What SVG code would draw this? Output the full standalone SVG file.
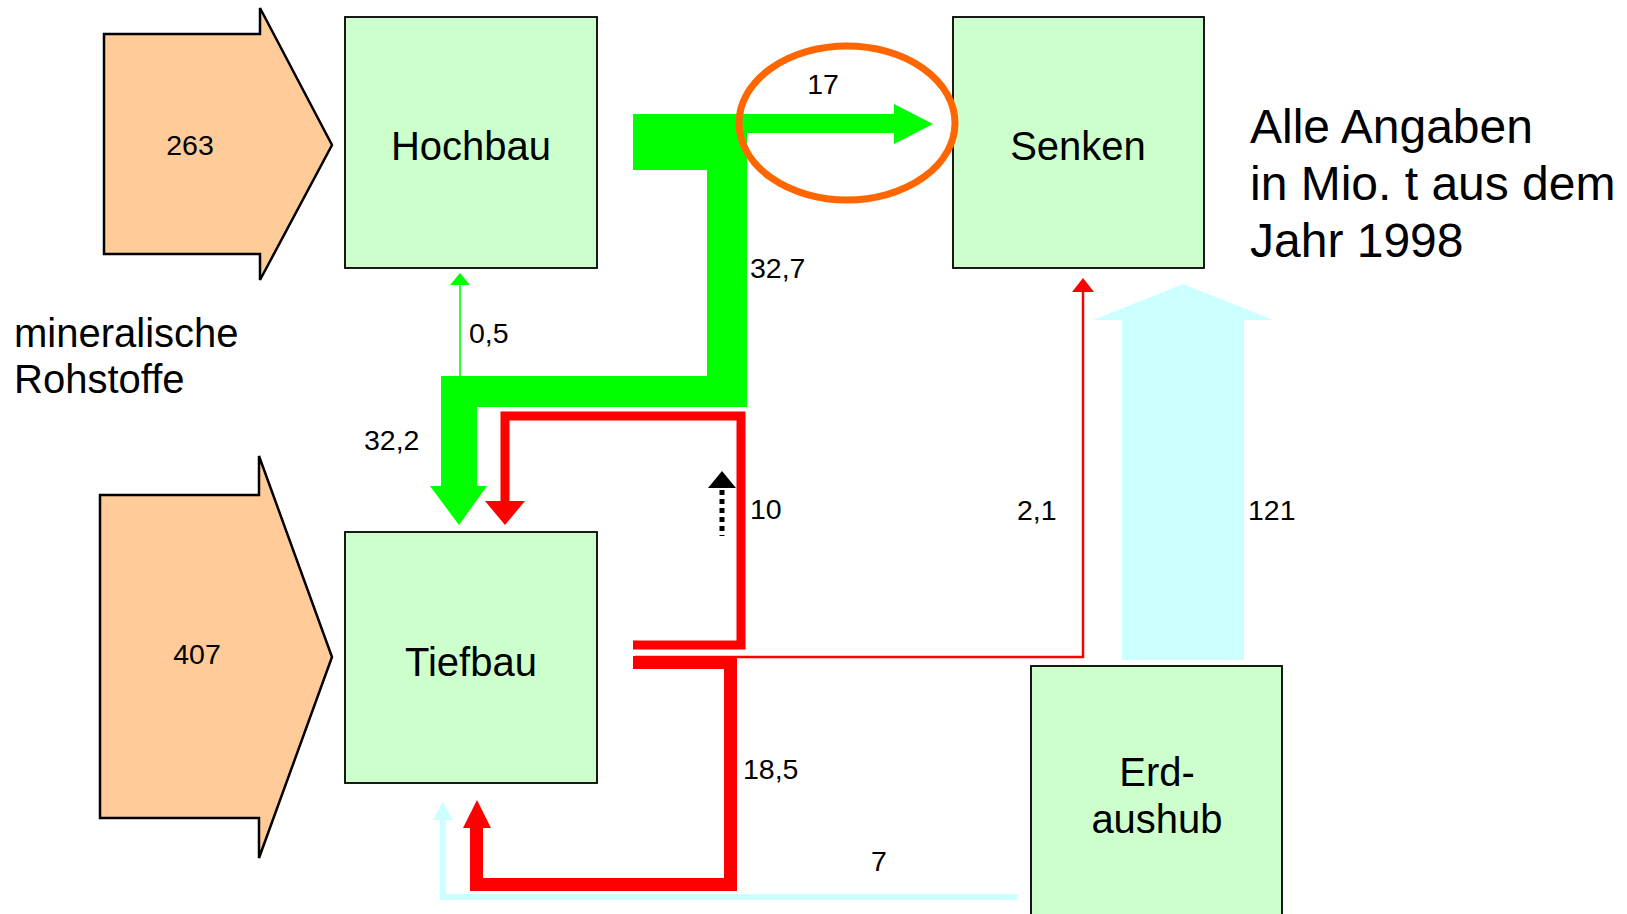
<svg xmlns="http://www.w3.org/2000/svg" width="1627" height="914" viewBox="0 0 1627 914">
<style>
text{font-family:"Liberation Sans",Arial,sans-serif;fill:#000}
.box{fill:#CCFFCC;stroke:#000;stroke-width:1.8}
.inp{fill:#FFCC99;stroke:#000;stroke-width:2.5;stroke-linejoin:miter}
.nl{font-size:40px;text-anchor:middle}
.lb{font-size:28.5px}
.note{font-size:48px}
</style>
<rect width="1627" height="914" fill="#fff"/>
<g id="input-263">
<polygon class="inp" points="104,34 260,34 260,8 332,145 260,280 260,254 104,254"/>
<text class="lb" x="190" y="155" text-anchor="middle">263</text>
</g>
<g id="input-407">
<polygon class="inp" points="100,495 259,495 259,456 332,657 259,858 259,818 100,818"/>
<text class="lb" x="197" y="664" text-anchor="middle">407</text>
</g>
<g id="hochbau">
<rect class="box" x="345" y="17" width="252" height="251"/>
<text class="nl" x="471" y="160">Hochbau</text>
</g>
<g id="senken">
<rect class="box" x="953" y="17" width="251" height="251"/>
<text class="nl" x="1078" y="160">Senken</text>
</g>
<g id="tiefbau">
<rect class="box" x="345" y="532" width="252" height="251"/>
<text class="nl" x="471" y="676">Tiefbau</text>
</g>
<g id="erdaushub">
<rect class="box" x="1031" y="666" width="251" height="260"/>
<text class="nl" x="1157" y="786">Erd-</text>
<text class="nl" x="1157" y="833">aushub</text>
</g>
<g id="connectors">
<polygon fill="#00FF00" points="633,114 747,114 747,407 477,407 477,486 487,486 459,525 430,486 441,486 441,376 707,376 707,170 633,170"/>
<polygon fill="#00FF00" points="747,114 894,114 894,104 933,124 894,144 894,133 747,133"/>
<line x1="460" y1="376" x2="460" y2="284" stroke="#00FF00" stroke-width="1.6"/>
<polygon fill="#00FF00" points="450,285 470,285 460,273"/>
<path d="M633,645 H741 V416 H505 V502" fill="none" stroke="#FF0000" stroke-width="9"/>
<polygon fill="#FF0000" points="485,501 525,501 505,525"/>
<path d="M633,662.5 H730.5 V884.5 H476.5 V826" fill="none" stroke="#FF0000" stroke-width="13"/>
<polygon fill="#FF0000" points="463,828 491,828 477,800"/>
<polyline points="635,657 1083,657 1083,290" fill="none" stroke="#FF0000" stroke-width="2.5"/>
<polygon fill="#FF0000" points="1072,292 1094,292 1083,278"/>
<polygon fill="#CCFFFF" points="1122,660 1122,320 1093,320 1183,284 1273,320 1244,320 1244,660"/>
<polyline points="1017,897 443,897 443,818" fill="none" stroke="#CCFFFF" stroke-width="6"/>
<polygon fill="#CCFFFF" points="433,820 453,820 443,802"/>
<line x1="722" y1="490" x2="722" y2="536" stroke="#000" stroke-width="5" stroke-dasharray="5,4"/>
<polygon fill="#000" points="708,488 736,488 722,471"/>
<ellipse cx="847" cy="123" rx="108" ry="77" fill="none" stroke="#FF6600" stroke-width="7"/>
</g>
<g id="labels">
<text class="lb" x="823" y="94" text-anchor="middle">17</text>
<text class="lb" x="750" y="278">32,7</text>
<text class="lb" x="469" y="343">0,5</text>
<text class="lb" x="364" y="450">32,2</text>
<text class="lb" x="750" y="519">10</text>
<text class="lb" x="1017" y="520">2,1</text>
<text class="lb" x="1248" y="520">121</text>
<text class="lb" x="743" y="779">18,5</text>
<text class="lb" x="871" y="871">7</text>
</g>
<g id="notes">
<text font-size="40" x="14" y="347">mineralische</text>
<text font-size="40" x="14" y="393">Rohstoffe</text>
<text class="note" x="1250" y="143">Alle Angaben</text>
<text class="note" x="1250" y="200">in Mio. t aus dem</text>
<text class="note" x="1250" y="257">Jahr 1998</text>
</g>
</svg>
